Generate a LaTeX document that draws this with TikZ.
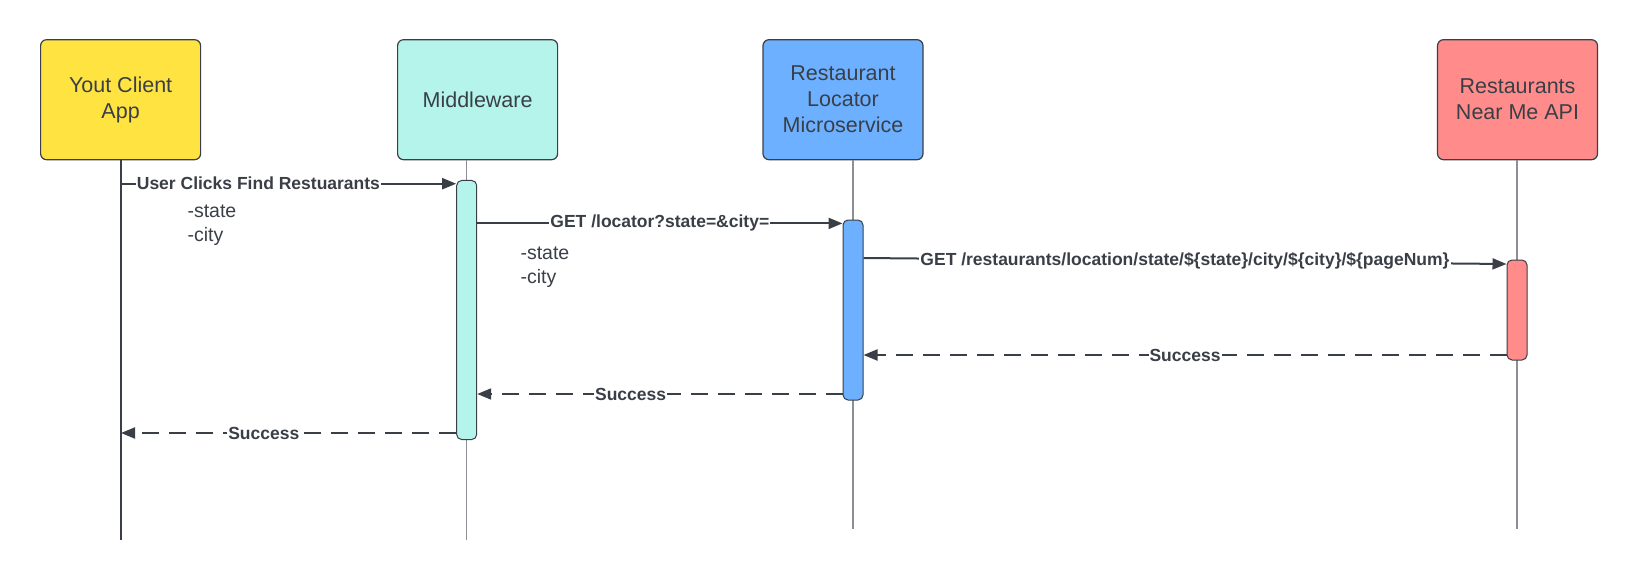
\documentclass[tikz,border=0pt]{standalone}
\usepackage{fontspec}
\setmainfont{Liberation Sans}
\usetikzlibrary{positioning,arrows.meta,calc}
\definecolor{ink}{HTML}{3A3F47}
\definecolor{lifegray}{HTML}{8C8F94}
\definecolor{clientfill}{HTML}{FFE340}
\definecolor{mwfill}{HTML}{B4F4EA}
\definecolor{locfill}{HTML}{6CB0FF}
\definecolor{apifill}{HTML}{FF8C8A}
\tikzset{
    actor/.style = {
        draw=ink,
        shape=rectangle,
        rounded corners=6pt,
        minimum width=160pt,
        minimum height=120pt,
        line width=1.2pt,
        align=center,
        text=ink,
        font=\fontsize{21.5}{26}\selectfont
    },
    bar/.style = {
        draw=ink,
        shape=rectangle,
        rounded corners=5pt,
        minimum width=20pt,
        inner sep=0pt,
        line width=1pt
    },
    life/.style = {
        draw=lifegray,
        line width=1.2pt
    },
    call/.style = {
        draw=ink,
        line width=2pt,
        -{Triangle[length=14pt,width=11pt]}
    },
    reply/.style = {
        call,
        dash pattern=on 17pt off 10pt
    },
    lbl/.style = {
        fill=white,
        inner sep=1pt,
        text=ink,
        font=\bfseries\fontsize{17.5}{20}\selectfont
    },
    note/.style = {
        anchor=west,
        align=left,
        text=ink,
        font=\fontsize{19.5}{24}\selectfont
    },
}

\begin{document}
\begin{tikzpicture}[x=1pt, y=-1pt]
        \useasboundingbox (0,0) rectangle (1637,580);

        \node[actor, fill=clientfill] (client) at (120.6,99.7) {Yout Client\\App};
        \node[actor, fill=mwfill] (mw) at (477.6,99.7) {Middleware};
        \node[actor, fill=locfill] (loc) at (843,99.7) {Restaurant\\Locator\\Microservice};
        \node[actor, fill=apifill] (api) at (1517.5,99.7) {Restaurants\\Near Me API};

        \coordinate (clientline) at (121,540);
        \coordinate (mwline) at (466.7,540);
        \coordinate (locline) at (853,529);
        \coordinate (apiline) at (1517,529);

        \path[draw=ink, line width=2pt] (clientline |- client.south) -- (clientline);
        \path[life] (mwline |- mw.south) -- (mwline);
        \path[life] (locline |- loc.south) -- (locline);
        \path[life] (apiline |- api.south) -- (apiline);

        \node[bar, fill=mwfill, minimum height=259pt] (mwbar) at (466.7,310) {};
        \node[bar, fill=locfill, minimum height=180pt] (locbar) at (853,310) {};
        \node[bar, fill=apifill, minimum height=100pt] (apibar) at (1517,310) {};

        \coordinate (y1) at (0,183.7);
        \coordinate (y2) at (0,223.4);
        \coordinate (y3) at (0,258);
        \coordinate (y3b) at (0,264);
        \coordinate (y4) at (0,355);
        \coordinate (y5) at (0,394);
        \coordinate (y6) at (0,433);

        \path[call] (clientline |- y1) -- node[lbl, pos=0.41]{User Clicks Find Restuarants} (mwbar.west |- y1);
        \path[call] (mwbar.east |- y2) -- node[lbl, pos=0.5]{GET /locator?state=\&city=} (locbar.west |- y2);
        \path[call] (locbar.east |- y3) -- node[lbl, pos=0.5]{GET /restaurants/location/state/\$\{state\}/city/\$\{city\}/\$\{pageNum\}} (apibar.west |- y3b);

        \path[reply] (apibar.west |- y4) -- node[lbl, pos=0.5]{Success} (locbar.east |- y4);
        \path[reply] (locbar.west |- y5) -- node[lbl, pos=0.58]{Success} (mwbar.east |- y5);
        \path[reply] (mwbar.west |- y6) -- node[lbl, pos=0.574]{Success} (clientline |- y6);

        \node[note] (clientargs) at (184,225) {-state\\-city};
        \node[note] (mwargs) at (517,267) {-state\\-city};
    \end{tikzpicture}
\end{document}
